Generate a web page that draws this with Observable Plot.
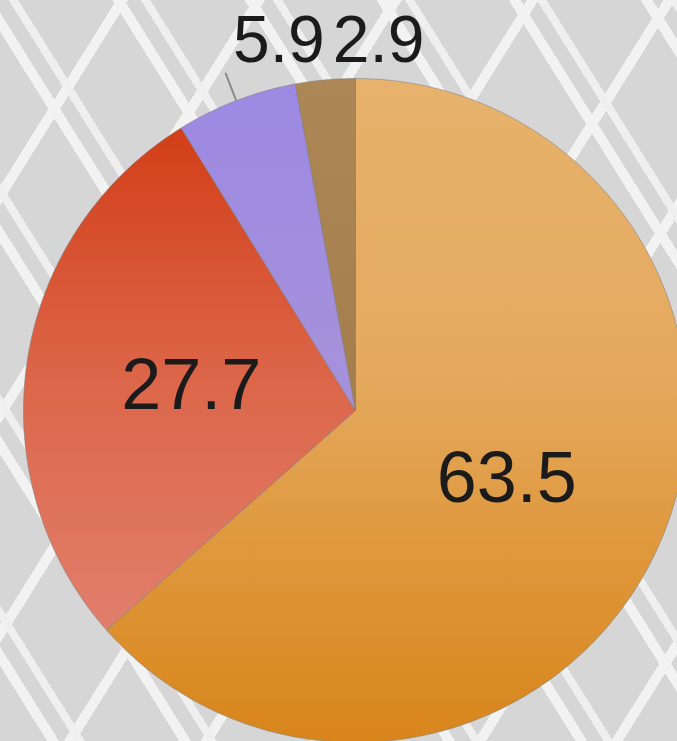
<!DOCTYPE html>
<html>
<head>
<meta charset="utf-8">
<script src="https://cdn.jsdelivr.net/npm/d3@7"></script>
<script src="https://cdn.jsdelivr.net/npm/@observablehq/plot@0.6"></script>
<style>
  html, body { margin: 0; padding: 0; }
  body {
    width: 677px; height: 741px; overflow: hidden;
    background-color: #d6d6d6;
    background-image:
      repeating-linear-gradient(58deg, transparent 0 40px, #f2f2f2 40px 50px, transparent 50px 64px, #efefef 64px 72px, transparent 72px 112px),
      repeating-linear-gradient(-58deg, transparent 0 46px, #f2f2f2 46px 56px, transparent 56px 116px);
  }
  #chart { position: absolute; left: 0; top: 0; }
</style>
</head>
<body>
<div id="chart"></div>
<script>
// Data
const categories = ["A", "B", "C", "D"];
const values = [63.5, 27.7, 5.9, 2.9];
const labels = ["63.5", "27.7", "5.9", "2.9"];
const gradientStops = [
  [["0", "#e7b26c"], ["0.45", "#e4a95e"], ["0.75", "#de9537"], ["1", "#d8851b"]],
  [["0", "#d23e18"], ["0.5", "#dc6649"], ["1", "#e17f6c"]],
  [["0", "#9c89e2"], ["1", "#a692da"]],
  [["0", "#ad8755"], ["1", "#a47d4c"]]
];

const W = 677, H = 741, R = 332, CX = 355, CY = 410;

const arcs = d3.pie().sort(null).value(d => d)(values);

// Build polygon points for each slice (unit radius, angle clockwise from top)
const slices = arcs.map((a, i) => {
  const pts = [{x: 0, y: 0}];
  const n = Math.max(4, Math.ceil((a.endAngle - a.startAngle) / 0.01));
  for (let k = 0; k <= n; k++) {
    const t = a.startAngle + (a.endAngle - a.startAngle) * k / n;
    pts.push({x: Math.sin(t), y: Math.cos(t)});
  }
  pts.push({x: 0, y: 0});
  return pts;
});

const mid = a => (a.startAngle + a.endAngle) / 2;
const insideLabels = arcs.slice(0, 2).map((a, i) => ({
  x: 0.5 * Math.sin(mid(a)), y: 0.5 * Math.cos(mid(a)), text: labels[i]
}));
const outsideLabels = arcs.slice(2).map((a, j) => ({
  x: 1.12 * Math.sin(mid(a)), y: 1.114, text: labels[j + 2]
}));
const leader = [{
  x1: Math.sin(mid(arcs[2])), y1: Math.cos(mid(arcs[2])),
  x2: 1.09 * Math.sin(mid(arcs[2])), y2: 1.09 * Math.cos(mid(arcs[2]))
}];

const font = "'Liberation Sans', Arial, Helvetica, sans-serif";

const chart = Plot.plot({
  width: W,
  height: H,
  margin: 0,
  x: {domain: [-CX / R, (W - CX) / R], axis: null},
  y: {domain: [-(H - CY) / R, CY / R], axis: null},
  style: {background: "transparent", overflow: "visible"},
  marks: [
    ...slices.map((pts, i) => Plot.line(pts, {
      x: "x", y: "y", fill: `url(#slice-grad-${i})`,
      stroke: "#7d7d7d", strokeWidth: 1, strokeOpacity: 0.55, strokeLinejoin: "round"
    })),
    Plot.link(leader, {x1: "x1", y1: "y1", x2: "x2", y2: "y2", stroke: "#8a8a8a", strokeWidth: 2}),
    Plot.text(insideLabels, {
      x: "x", y: "y", text: "text", fontSize: 72, fontFamily: font,
      fill: "#1b1b1b", lineAnchor: "middle", textAnchor: "middle"
    }),
    Plot.text(outsideLabels, {
      x: "x", y: "y", text: "text", fontSize: 66, fontFamily: font,
      fill: "#1b1b1b", lineAnchor: "middle", textAnchor: "middle", dx: 57
    })
  ]
});

// Gradient definitions for slices
const defs = d3.select(chart).insert("defs", ":first-child");
gradientStops.forEach((stops, i) => {
  const g = defs.append("linearGradient")
    .attr("id", `slice-grad-${i}`)
    .attr("x1", "0").attr("y1", "0").attr("x2", "0").attr("y2", "1");
  stops.forEach(([o, c]) => g.append("stop").attr("offset", o).attr("stop-color", c));
});

document.getElementById("chart").appendChild(chart);
</script>
</body>
</html>
